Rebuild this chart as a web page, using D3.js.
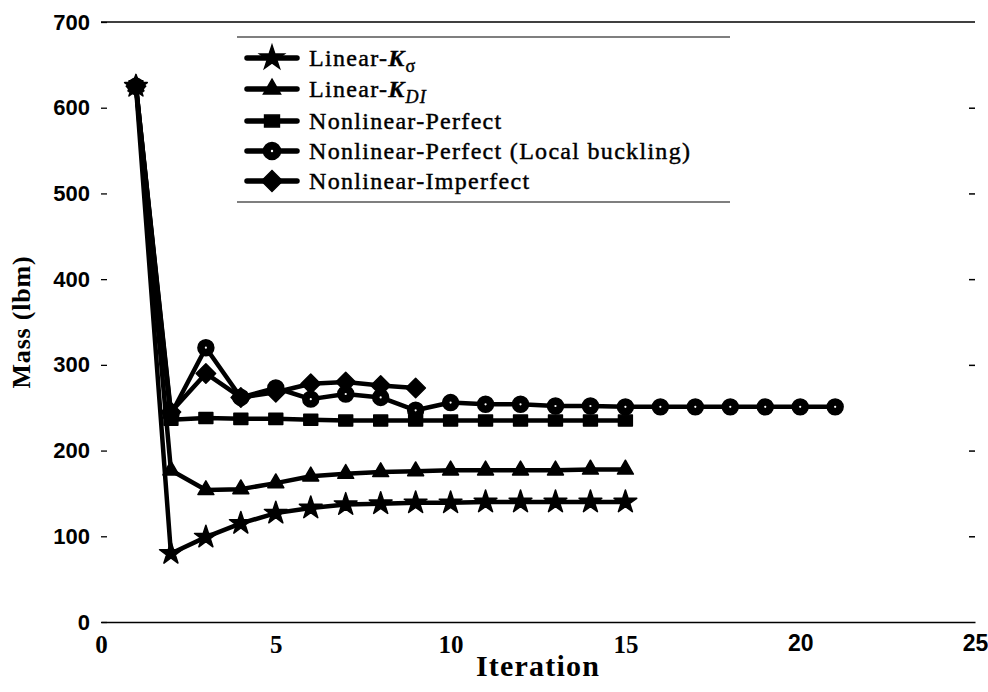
<!DOCTYPE html>
<html>
<head>
<meta charset="utf-8">
<script src="https://cdn.jsdelivr.net/npm/d3@7/dist/d3.min.js"></script>
<style>
  html, body { margin: 0; padding: 0; background: #fff; }
  svg { display: block; }
</style>
</head>
<body>
<svg id="chart" width="988" height="692"></svg>
<script>
// Mass history of the optimisation for each analysis model
const iterKSigma = d3.range(1, 16);
const massKSigma = [625, 80, 99, 115, 127, 133, 137, 138, 139, 139, 140, 140, 140, 140, 140];

const iterKDI = d3.range(1, 16);
const massKDI = [625, 177, 154, 155, 162, 170, 173, 175, 176, 177, 177, 177, 177, 178, 178];

const iterPerfect = d3.range(1, 16);
const massPerfect = [625, 236, 238, 237, 237, 236, 235, 235, 235, 235, 235, 235, 235, 235, 235];

const iterLocal = d3.range(1, 22);
const massLocal = [625, 242, 320, 262, 273, 260, 266, 262, 247, 256, 254, 254, 252, 252, 251,
                   251, 251, 251, 251, 251, 251];

const iterImperfect = d3.range(1, 10);
const massImperfect = [625, 245, 290, 262, 268, 278, 280, 276, 273];

const xTicks = [0, 5, 10, 15, 20, 25];
const yTicks = [0, 100, 200, 300, 400, 500, 600, 700];

const seriesNames = ["Linear-K\u03c3", "Linear-KDI", "Nonlinear-Perfect",
                     "Nonlinear-Perfect (Local buckling)", "Nonlinear-Imperfect"];

const svg = d3.select("#chart");
const x = d3.scaleLinear().domain([0, 25]).range([101, 975]);
const y = d3.scaleLinear().domain([0, 700]).range([622, 22]);

// square turned 45 degrees
const diamondSquare = {
  draw(ctx, size) {
    const r = Math.sqrt(size / 2);
    ctx.moveTo(0, -r); ctx.lineTo(r, 0); ctx.lineTo(0, r); ctx.lineTo(-r, 0); ctx.closePath();
  }
};
// slightly flattened square
const flatSquare = {
  draw(ctx, size) {
    const w = Math.sqrt(size) * 1.08, h = Math.sqrt(size) * 0.86;
    ctx.moveTo(-w / 2, -h / 2); ctx.lineTo(w / 2, -h / 2); ctx.lineTo(w / 2, h / 2);
    ctx.lineTo(-w / 2, h / 2); ctx.closePath();
  }
};

const series = [
  { name: seriesNames[0], xs: iterKSigma, ys: massKSigma, type: d3.symbolStar, size: 160 },
  { name: seriesNames[1], xs: iterKDI, ys: massKDI, type: d3.symbolTriangle, size: 110 },
  { name: seriesNames[2], xs: iterPerfect, ys: massPerfect, type: flatSquare, size: 165 },
  { name: seriesNames[3], xs: iterLocal, ys: massLocal, type: d3.symbolCircle, size: 200, hole: true },
  { name: seriesNames[4], xs: iterImperfect, ys: massImperfect, type: diamondSquare, size: 190 }
];

// frame: top and bottom rules
svg.append("line").attr("x1", x(0)).attr("x2", x(25)).attr("y1", y(700)).attr("y2", y(700))
  .attr("stroke", "#000").attr("stroke-width", 1.3);

// bottom axis
const xAxis = svg.append("g").attr("transform", `translate(0,${y(0)})`)
  .call(d3.axisBottom(x).tickValues(xTicks).tickSize(0).tickPadding(13));
xAxis.select(".domain").attr("stroke", "#000").attr("stroke-width", 1.3);
xAxis.selectAll("text")
  .attr("font-family", d => d >= 20 ? "'Liberation Sans', Arial, sans-serif" : "'Liberation Serif', 'Times New Roman', serif")
  .attr("font-weight", "bold").attr("font-size", d => d >= 20 ? 23 : 25).attr("fill", "#000");

// left axis: labels with short inward ticks
const yAxis = svg.append("g").attr("transform", `translate(${x(0)},0)`)
  .call(d3.axisLeft(y).tickValues(yTicks).tickSizeInner(-6).tickSizeOuter(0).tickPadding(11));
yAxis.select(".domain").remove();
yAxis.selectAll("line").attr("stroke", "#000").attr("stroke-width", 1.3);
yAxis.selectAll("text").attr("font-family", "'Liberation Sans', Arial, sans-serif")
  .attr("font-weight", "bold").attr("font-size", 22).attr("fill", "#000");

// right axis: ticks only
const yAxisR = svg.append("g").attr("transform", `translate(${x(25)},0)`)
  .call(d3.axisRight(y).tickValues(yTicks.slice(1, -1)).tickSizeInner(-6).tickSizeOuter(0).tickFormat(""));
yAxisR.select(".domain").remove();
yAxisR.selectAll("line").attr("stroke", "#000").attr("stroke-width", 1.5);

// axis titles
svg.append("text").attr("x", (x(0) + x(25)) / 2).attr("y", 676)
  .attr("text-anchor", "middle").attr("font-family", "'Liberation Serif', 'Times New Roman', serif")
  .attr("font-weight", "bold").attr("font-size", 30).attr("letter-spacing", 1.2)
  .text("Iteration");
svg.append("text").attr("transform", `translate(30,${y(350)}) rotate(-90)`)
  .attr("text-anchor", "middle").attr("font-family", "'Liberation Serif', 'Times New Roman', serif")
  .attr("font-weight", "bold").attr("font-size", 26).attr("letter-spacing", 0.8)
  .text("Mass (lbm)");

// series lines and markers
const line = d3.line().x(d => x(d[0])).y(d => y(d[1]));
const plot = svg.append("g");
series.forEach(s => {
  const pts = s.xs.map((it, i) => [it, s.ys[i]]);
  plot.append("path").attr("d", line(pts)).attr("fill", "none")
    .attr("stroke", "#000").attr("stroke-width", 4.5).attr("stroke-linejoin", "round");
});
series.forEach(s => {
  const pts = s.xs.map((it, i) => [it, s.ys[i]]);
  const sym = d3.symbol().type(s.type).size(s.size);
  const g = plot.append("g");
  g.selectAll("path").data(pts).join("path")
    .attr("transform", d => `translate(${x(d[0])},${y(d[1])})`)
    .attr("d", sym()).attr("fill", "#000").attr("stroke", "#000").attr("stroke-width", 1.5)
    .attr("stroke-linejoin", "round");
  if (s.hole) {
    g.selectAll("circle").data(pts).join("circle")
      .attr("cx", d => x(d[0])).attr("cy", d => y(d[1])).attr("r", 1.1).attr("fill", "#fff");
  }
});

// legend
const legend = svg.append("g");
legend.append("line").attr("x1", 237).attr("x2", 730).attr("y1", 37).attr("y2", 37)
  .attr("stroke", "#000").attr("stroke-width", 1.2);
legend.append("line").attr("x1", 237).attr("x2", 730).attr("y1", 202).attr("y2", 202)
  .attr("stroke", "#000").attr("stroke-width", 1.2);
const rowY = [58, 89, 121, 151, 181];
series.forEach((s, i) => {
  const ry = rowY[i];
  legend.append("line").attr("x1", 247).attr("x2", 297).attr("y1", ry).attr("y2", ry)
    .attr("stroke", "#000").attr("stroke-width", 5.5).attr("stroke-linecap", "round");
  legend.append("path").attr("transform", `translate(272,${ry})`)
    .attr("d", d3.symbol().type(s.type).size(s.size * 1.15)()).attr("fill", "#000")
    .attr("stroke", "#000").attr("stroke-width", 1.5);
  if (s.hole) legend.append("circle").attr("cx", 272).attr("cy", ry).attr("r", 1.2).attr("fill", "#fff");
  const t = legend.append("text").attr("x", 309).attr("y", ry + 8)
    .attr("font-family", "'Liberation Serif', 'Times New Roman', serif")
    .attr("font-size", 24).attr("letter-spacing", 1.3).attr("fill", "#000")
    .attr("stroke", "#000").attr("stroke-width", 0.45);
  if (i === 0) {
    t.append("tspan").text("Linear-");
    t.append("tspan").attr("font-weight", "bold").attr("font-style", "italic").text("K");
    t.append("tspan").attr("font-size", 18).attr("dy", 6).text("\u03c3");
  } else if (i === 1) {
    t.append("tspan").text("Linear-");
    t.append("tspan").attr("font-weight", "bold").attr("font-style", "italic").text("K");
    t.append("tspan").attr("font-size", 18).attr("font-style", "italic").attr("dy", 6).text("DI");
  } else {
    t.text(s.name);
  }
});
</script>
</body>
</html>
